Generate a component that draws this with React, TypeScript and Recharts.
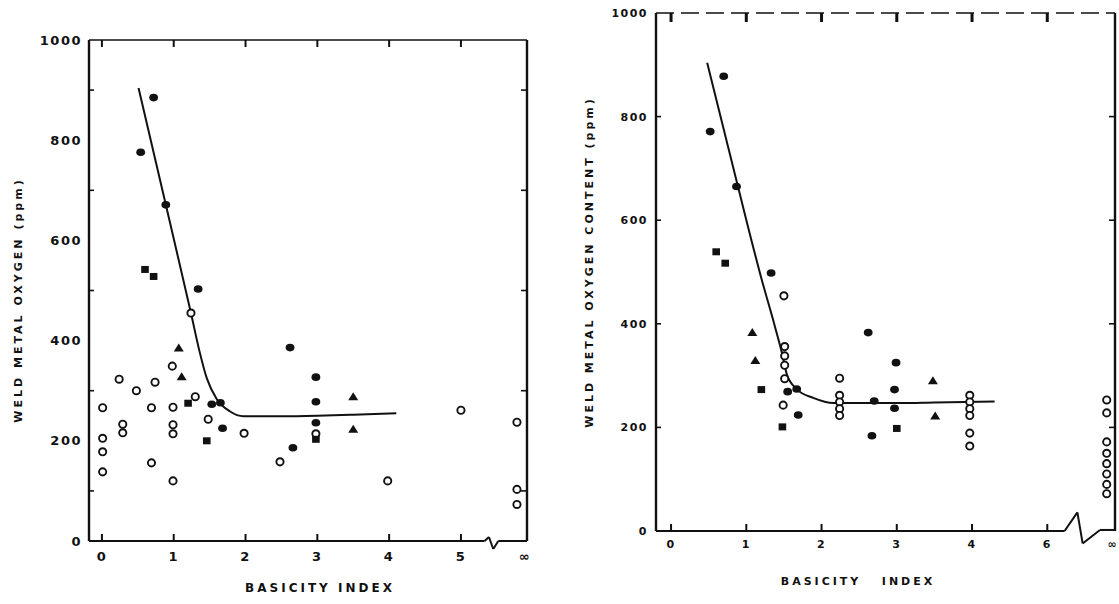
import React from 'react';
import {ScatterChart, Scatter, XAxis, YAxis, ReferenceLine} from 'recharts';

type Pt = [number, number];

// left panel — weld metal oxygen (ppm) vs basicity index
const leftOpenCircles: Pt[] = [
  [0.01, 266], [0.01, 205], [0.01, 178], [0.01, 138],
  [0.24, 323], [0.29, 233], [0.29, 216], [0.48, 300],
  [0.74, 317], [0.69, 266], [0.69, 156],
  [0.98, 349], [0.99, 267], [0.99, 232], [0.99, 214], [0.99, 120],
  [1.24, 455], [1.3, 288], [1.48, 243], [1.98, 215], [2.48, 158],
  [2.98, 214], [3.98, 120], [5.0, 261],
  [5.78, 237], [5.78, 103], [5.78, 73],
];
const leftFilledCircles: Pt[] = [
  [0.72, 885], [0.54, 776], [0.89, 671], [1.34, 503],
  [1.53, 273], [1.65, 276], [1.68, 225],
  [2.62, 386], [2.66, 186], [2.98, 327], [2.98, 278], [2.98, 236],
];
const leftSquares: Pt[] = [[0.6, 542], [0.72, 528], [1.2, 275], [1.46, 200], [2.98, 203]];
const leftTriangles: Pt[] = [[1.07, 385], [1.11, 328], [3.5, 288], [3.5, 223]];
const leftCurve: Pt[] = [
  [0.51, 904], [0.89, 671], [1.24, 455], [1.36, 378], [1.46, 325], [1.6, 283],
  [1.78, 259], [1.97, 249], [2.5, 249], [3.0, 250], [3.5, 252], [4.1, 255],
];
const leftBottomLine: Pt[] = [[-0.18, 0], [5.33, 0], [5.39, 8], [5.45, -16], [5.52, 0], [5.92, 0]];
const leftXTicks = [0, 1, 2, 3, 4, 5, 5.89];
const leftXLabels = ['0', '1', '2', '3', '4', '5', '∞'];
const leftYTicks = [0, 200, 400, 600, 800, 1000];
const leftInnerTicks = [100, 300, 500, 700, 900];
const leftRightTicks = [100, 300, 500, 700, 900];

// right panel — weld metal oxygen content (ppm) vs basicity index
const rightOpenCircles: Pt[] = [
  [1.5, 454], [1.51, 356], [1.51, 338], [1.51, 320], [1.51, 294], [1.49, 243],
  [2.24, 295], [2.24, 262], [2.24, 249], [2.24, 236], [2.24, 223],
  [3.97, 262], [3.97, 249], [3.97, 236], [3.97, 223], [3.97, 189], [3.97, 164],
  [5.79, 253], [5.79, 228], [5.79, 172], [5.79, 150], [5.79, 130], [5.79, 110], [5.79, 90], [5.79, 72],
];
const rightFilledCircles: Pt[] = [
  [0.7, 878], [0.52, 771], [0.87, 665], [1.33, 498],
  [1.55, 269], [1.67, 274], [1.69, 224],
  [2.62, 383], [2.7, 251], [2.67, 184],
  [2.99, 325], [2.97, 273], [2.97, 237],
];
const rightSquares: Pt[] = [[0.6, 539], [0.72, 517], [1.2, 273], [1.48, 201], [3.0, 198]];
const rightTriangles: Pt[] = [[1.08, 383], [1.12, 329], [3.48, 290], [3.51, 222]];
const rightCurve: Pt[] = [
  [0.48, 904], [0.87, 676], [1.2, 488], [1.38, 395], [1.47, 346], [1.54, 302], [1.67, 274],
  [1.89, 257], [2.16, 247], [3.0, 247], [3.5, 248], [4.3, 250],
];
const rightBottomLine: Pt[] = [[-0.2, 0], [5.23, 0], [5.4, 36], [5.47, -24], [5.7, 2], [5.9, 2]];
const rightXTicks = [0, 1, 2, 3, 4, 5, 5.87];
const rightXLabels = ['0', '1', '2', '3', '4', '6', '∞'];
const rightYTicks = [0, 200, 400, 600, 800, 1000];
const rightInnerTicks = [200, 400, 600, 800];
const rightRightTicks = [200, 400, 600, 800];

const topTicks = [0, 1, 2, 3, 4, 5];
const bottomTicks = [0, 1, 2, 3, 4, 5];
const ink = '#111';
const font = '"DejaVu Sans", sans-serif';

const xy = (pts: Pt[]) => pts.map(([x, y]) => ({x, y}));

const OpenDot = (p: any) => (
  <circle cx={p.cx} cy={p.cy} r={3.6} fill="#fff" stroke={ink} strokeWidth={1.9}/>
);
const FilledDot = (p: any) => <ellipse cx={p.cx} cy={p.cy} rx={4.4} ry={3.8} fill={ink}/>;
const FilledSquare = (p: any) => (
  <rect x={p.cx - 3.8} y={p.cy - 3.5} width={7.6} height={7} fill={ink}/>
);
const FilledTriangle = (p: any) => (
  <polygon
    points={`${p.cx},${p.cy - 4.5} ${p.cx + 5},${p.cy + 3.5} ${p.cx - 5},${p.cy + 3.5}`}
    fill={ink}
  />
);
const NoDot = () => <g/>;
// short tick mark drawn from the point in a given pixel direction
const tickMark = (ddx: number, ddy: number, w: number) => (p: any) => (
  <line x1={p.cx} y1={p.cy} x2={p.cx + ddx} y2={p.cy + ddy} stroke={ink} strokeWidth={w}/>
);

type PanelProps = {
  width: number;
  top: number;
  right: number;
  yAxisWidth: number;
  xAxisHeight: number;
  xDomain: [number, number];
  xTicks: number[];
  xLabels: string[];
  yTicks: number[];
  innerTicks: number[];
  rightTicks: number[];
  open: Pt[];
  filled: Pt[];
  squares: Pt[];
  triangles: Pt[];
  curve: Pt[];
  bottomLine: Pt[];
  fontSize: number;
  yTickMargin: number;
  xTickMargin: number;
  topDash?: string;
  topTickW: number;
  topTickLen: number;
};

const Panel = (p: PanelProps) => {
  const [x0, x1] = p.xDomain;
  const labelFor = (v: number) => {
    const i = p.xTicks.indexOf(v);
    return i >= 0 ? p.xLabels[i] : '';
  };
  const frame: [Pt, Pt][] = [
    [[x0, 1000], [x1, 1000]],
    [[x1, 0], [x1, 1000]],
    ...p.bottomLine.slice(1).map((pt, i) => [p.bottomLine[i], pt] as [Pt, Pt]),
  ];

  return (
    <ScatterChart
      width={p.width}
      height={604}
      margin={{top: p.top, right: p.right, left: 0, bottom: 0}}
    >
      <XAxis
        dataKey="x"
        type="number"
        domain={p.xDomain}
        allowDataOverflow
        ticks={p.xTicks}
        interval={0}
        tickFormatter={labelFor}
        height={p.xAxisHeight}
        axisLine={false}
        tickLine={false}
        tickSize={0}
        tickMargin={p.xTickMargin}
        tick={{fill: ink, fontSize: p.fontSize, fontWeight: 700}}
      />
      <YAxis
        dataKey="y"
        type="number"
        domain={[0, 1000]}
        allowDataOverflow
        ticks={p.yTicks}
        interval={0}
        width={p.yAxisWidth}
        tickLine={false}
        tickSize={0}
        tickMargin={p.yTickMargin}
        axisLine={{stroke: ink, strokeWidth: 2.4}}
        tick={{fill: ink, fontSize: p.fontSize, fontWeight: 700}}
      />
      {frame.map(([a, b], i) => (
        <ReferenceLine
          key={`f-${i}`}
          segment={[
            {x: a[0], y: a[1]},
            {x: b[0], y: b[1]},
          ]}
          stroke={ink}
          strokeWidth={i === 0 ? 1.6 : i === 1 ? 2.4 : 2}
          strokeDasharray={i === 0 ? p.topDash : undefined}
          ifOverflow="visible"
        />
      ))}
      <Scatter
        data={topTicks.map((t) => ({x: t, y: 1000}))}
        shape={tickMark(0, p.topTickLen, p.topTickW)}
        isAnimationActive={false}
      />
      <Scatter
        data={bottomTicks.map((t) => ({x: t, y: 0}))}
        shape={tickMark(0, -7, 2)}
        isAnimationActive={false}
      />
      <Scatter
        data={p.innerTicks.map((v) => ({x: x0, y: v}))}
        shape={tickMark(5, 0, 1.6)}
        isAnimationActive={false}
      />
      <Scatter
        data={p.rightTicks.map((v) => ({x: x1, y: v}))}
        shape={tickMark(-6, 0, 1.6)}
        isAnimationActive={false}
      />
      <Scatter
        data={xy(p.curve)}
        shape={NoDot}
        line={{stroke: ink, strokeWidth: 2}}
        lineType="joint"
        lineJointType="monotoneX"
        isAnimationActive={false}
      />
      <Scatter data={xy(p.open)} shape={OpenDot} isAnimationActive={false}/>
      <Scatter data={xy(p.filled)} shape={FilledDot} isAnimationActive={false}/>
      <Scatter data={xy(p.squares)} shape={FilledSquare} isAnimationActive={false}/>
      <Scatter data={xy(p.triangles)} shape={FilledTriangle} isAnimationActive={false}/>
    </ScatterChart>
  );
};

const titleStyle = (x: number, y: number, size: number, rotate: boolean): React.CSSProperties => ({
  position: 'absolute',
  left: x,
  top: y,
  transform: `translate(-50%, -50%)${rotate ? ' rotate(-90deg)' : ''}`,
  whiteSpace: 'pre',
  fontSize: size,
  fontWeight: 700,
  letterSpacing: 3,
  color: ink,
});

export default function App() {
  return (
    <div
      style={{
        position: 'absolute',
        left: 0,
        top: 0,
        width: 1119,
        height: 604,
        background: '#fff',
        fontFamily: font,
        letterSpacing: 1.5,
      }}
    >
      <div style={{position: 'absolute', left: 0, top: 0}}>
        <Panel
          width={560}
          top={40}
          right={33}
          yAxisWidth={89}
          xAxisHeight={63}
          xDomain={[-0.18, 5.92]}
          xTicks={leftXTicks}
          xLabels={leftXLabels}
          yTicks={leftYTicks}
          innerTicks={leftInnerTicks}
          rightTicks={leftRightTicks}
          open={leftOpenCircles}
          filled={leftFilledCircles}
          squares={leftSquares}
          triangles={leftTriangles}
          curve={leftCurve}
          bottomLine={leftBottomLine}
          fontSize={13}
          yTickMargin={7}
          xTickMargin={11}
          topTickW={2}
          topTickLen={7}
        />
      </div>
      <div style={{position: 'absolute', left: 560, top: 0}}>
        <Panel
          width={559}
          top={13}
          right={4}
          yAxisWidth={96}
          xAxisHeight={73}
          xDomain={[-0.2, 5.9]}
          xTicks={rightXTicks}
          xLabels={rightXLabels}
          yTicks={rightYTicks}
          innerTicks={rightInnerTicks}
          rightTicks={rightRightTicks}
          open={rightOpenCircles}
          filled={rightFilledCircles}
          squares={rightSquares}
          triangles={rightTriangles}
          curve={rightCurve}
          bottomLine={rightBottomLine}
          fontSize={11}
          yTickMargin={8}
          xTickMargin={9}
          topDash="18 7"
          topTickW={3}
          topTickLen={9}
        />
      </div>
      <div style={titleStyle(18, 300, 11, true)}>WELD METAL OXYGEN (ppm)</div>
      <div style={titleStyle(589, 262, 11, true)}>WELD METAL OXYGEN CONTENT (ppm)</div>
      <div style={titleStyle(320, 588, 12, false)}>BASICITY INDEX</div>
      <div style={titleStyle(858, 581, 11, false)}>{'BASICITY   INDEX'}</div>
    </div>
  );
}
